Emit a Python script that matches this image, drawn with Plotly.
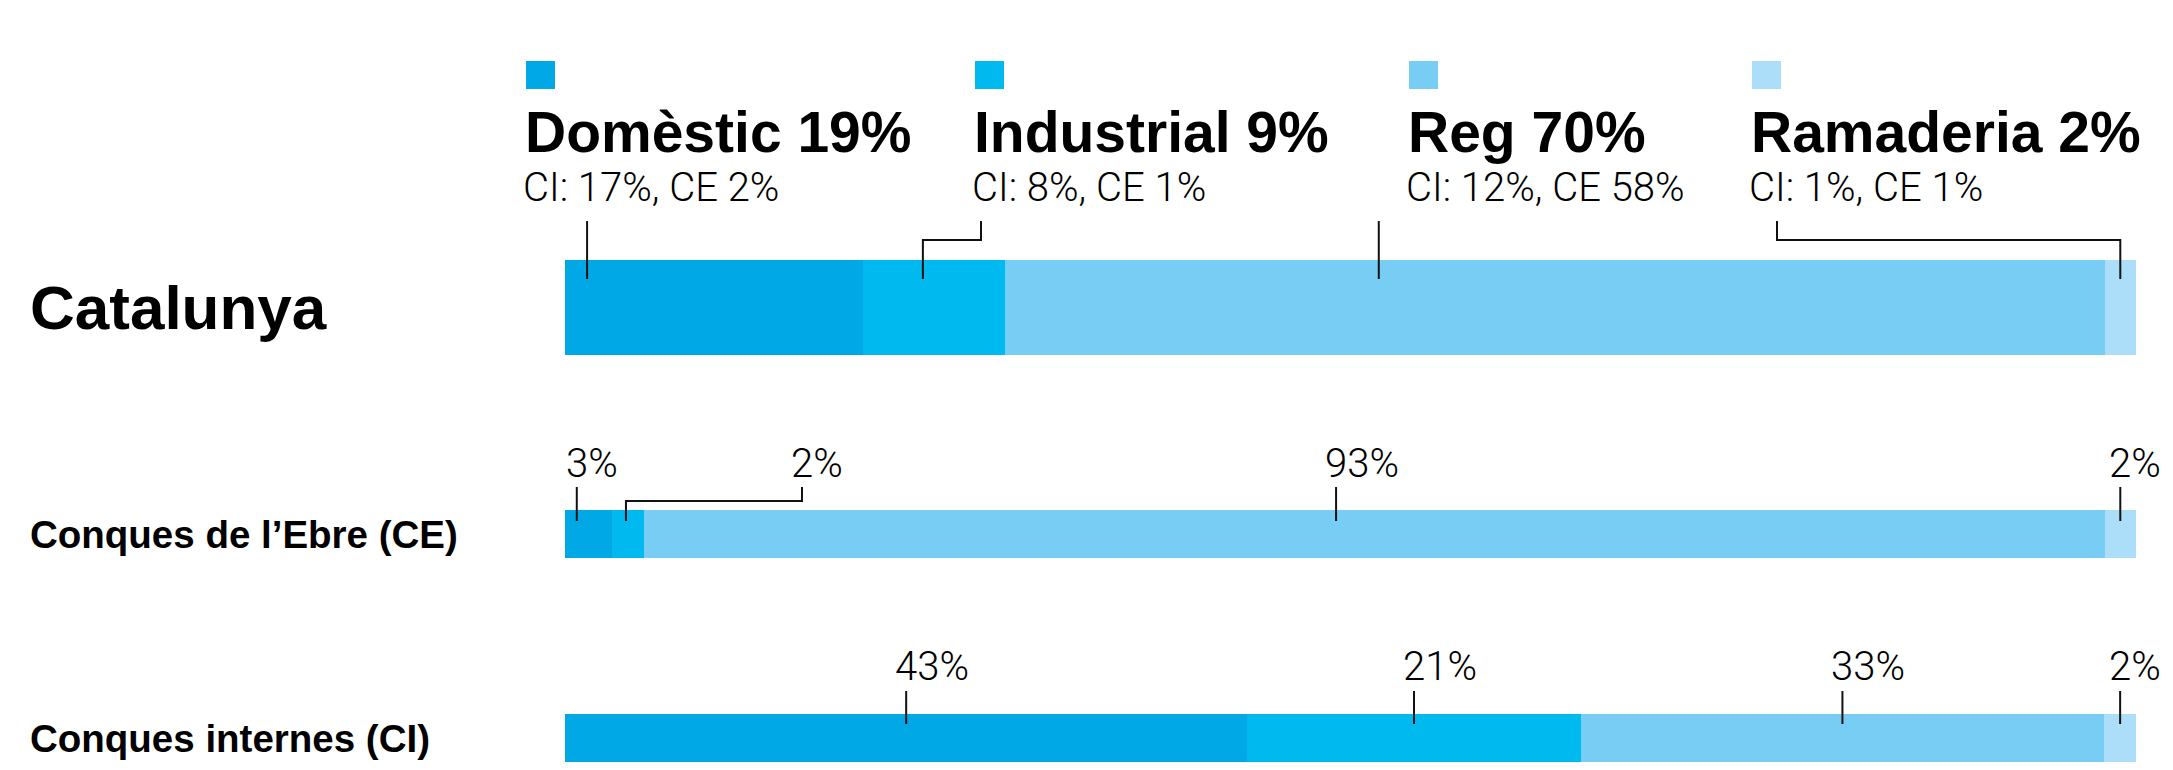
import plotly.graph_objects as go

# ---------------- data ----------------
rows = ["Catalunya", "Conques de l’Ebre (CE)", "Conques internes (CI)"]
uses = ["Domèstic", "Industrial", "Reg", "Ramaderia"]
cat_vals = [19, 9, 70, 2]
ce_vals = [3, 2, 93, 2]
ci_vals = [43, 21, 33, 2]
cat_detail = ["CI: 17%, CE 2%", "CI: 8%, CE 1%", "CI: 12%, CE 58%", "CI: 1%, CE 1%"]
colors = ["#00A9E6", "#00B9EF", "#77CDF4", "#ADDEF9"]

# ---------------- layout constants (pixels) ----------------
W, H = 2173, 770
PL, PR = 565, 2136
row_center = [307, 534, 738]
row_thick = [95, 48, 48]

# where each leader touches its segment (fraction of segment length)
anchor_frac = [
    [0.074, 0.42, 0.34, 0.5],
    [0.25, 0.44, 0.474, 0.5],
    [0.5, 0.5, 0.5, 0.5],
]
# header (Catalunya) label left edges and leader tops (px)
header_px = [523, 972, 1406, 1749]
header_leader_top = [None, 981, None, 1777]
ce_leader_top = [None, 802, None, None]
ci_leader_top = [None, None, None, None]
leader_y = [(221, 240, 279), (487, 501, 521), (691, 691, 724)]
label_y = [None, 463, 666.5]

BOLD = "Liberation Sans, Arial, sans-serif"
LIGHT = "Roboto, Liberation Sans, sans-serif"
INK = "#111111"


def px_x(px):
    return (px - PL) / (PR - PL)


def px_y(py):
    return 1 - py / H


fig = go.Figure()
all_vals = [cat_vals, ce_vals, ci_vals]
for i, u in enumerate(uses):
    fig.add_trace(go.Bar(
        orientation="h",
        y=row_center,
        x=[r[i] for r in all_vals],
        width=row_thick,
        name=u,
        marker=dict(color=colors[i], line=dict(width=0)),
        hoverinfo="skip",
    ))

shapes = []
annotations = []

# row labels
for r, name in enumerate(rows):
    annotations.append(dict(
        xref="paper", yref="paper", x=px_x(28), y=px_y(row_center[r]),
        xanchor="left", yanchor="middle", showarrow=False, text=name,
        font=dict(family=BOLD, size=62 if r == 0 else 38.5, color="#000", weight=700),
    ))

# header legend for Catalunya
for i, u in enumerate(uses):
    hx = header_px[i]
    shapes.append(dict(type="rect", xref="paper", yref="paper",
                       x0=px_x(hx + 3), x1=px_x(hx + 32), y0=px_y(61), y1=px_y(89),
                       fillcolor=colors[i], line=dict(width=0)))
    annotations.append(dict(
        xref="paper", yref="paper", x=px_x(hx), y=px_y(132.5),
        xanchor="left", yanchor="middle", showarrow=False,
        text=f"{u} {cat_vals[i]}%",
        font=dict(family=BOLD, size=57, color="#000", weight=700),
    ))
    annotations.append(dict(
        xref="paper", yref="paper", x=px_x(hx - 2), y=px_y(187.5),
        xanchor="left", yanchor="middle", showarrow=False,
        text=cat_detail[i],
        font=dict(family=LIGHT, size=40, color="#000", weight=300),
    ))

# leaders + value labels
tops = [header_leader_top, ce_leader_top, ci_leader_top]
for r, vals in enumerate(all_vals):
    total = sum(vals)
    start = 0.0
    y_top, y_elb, y_bot = leader_y[r]
    for i, v in enumerate(vals):
        seg = v / total
        ax_px = PL + (start + anchor_frac[r][i] * seg) * (PR - PL)
        start += seg
        top_px = tops[r][i] if tops[r][i] is not None else ax_px
        if abs(top_px - ax_px) > 1:
            path = (f"M {px_x(top_px)},{px_y(y_top)} L {px_x(top_px)},{px_y(y_elb)} "
                    f"L {px_x(ax_px)},{px_y(y_elb)} L {px_x(ax_px)},{px_y(y_bot)}")
        else:
            path = f"M {px_x(ax_px)},{px_y(y_top)} L {px_x(ax_px)},{px_y(y_bot)}"
        shapes.append(dict(type="path", xref="paper", yref="paper", path=path,
                           line=dict(color=INK, width=2)))
        if r > 0:
            annotations.append(dict(
                xref="paper", yref="paper", x=px_x(top_px - 13), y=px_y(label_y[r]),
                xanchor="left", yanchor="middle", showarrow=False,
                text=f"{v}%",
                font=dict(family=LIGHT, size=40, color="#000", weight=300),
            ))

fig.update_layout(
    width=W, height=H,
    margin=dict(l=PL, r=W - PR, t=0, b=0),
    barmode="stack", barnorm="percent", bargap=0,
    showlegend=False,
    paper_bgcolor="white", plot_bgcolor="white",
    xaxis=dict(range=[0, 100], visible=False, fixedrange=True),
    yaxis=dict(range=[H, 0], visible=False, fixedrange=True),
    shapes=shapes, annotations=annotations,
)

fig.write_html("out.html")
